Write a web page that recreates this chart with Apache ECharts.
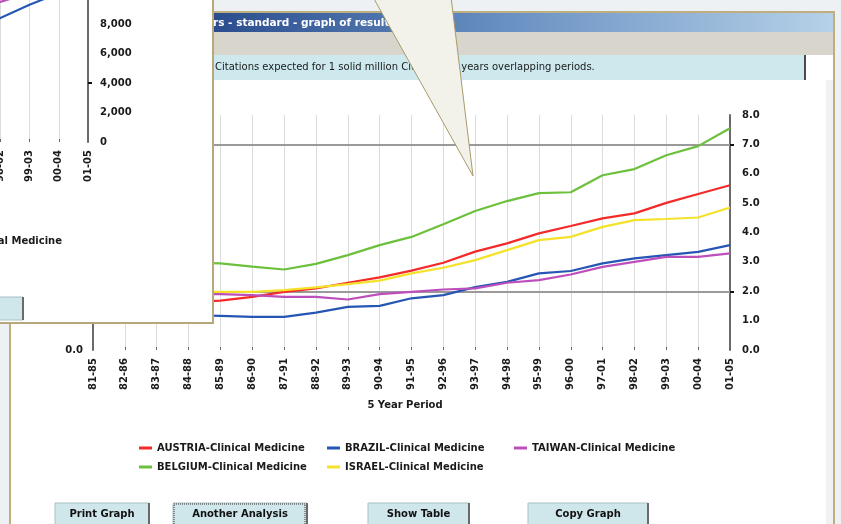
<!DOCTYPE html>
<html>
<head>
    <meta charset="utf-8">
    <title>5 Year Period</title>
    <script src="https://cdn.jsdelivr.net/npm/echarts@6/dist/echarts.min.js"></script>
</head>
<body style="margin:0">
    <div id="main" style="width:841px;height:524px;"></div>
    <script type="text/javascript">
        var myChart = echarts.init(document.getElementById('main'));

        /*--------------------- data ----------------------------*/
        var periods = ['81-85', '82-86', '83-87', '84-88', '85-89', '86-90', '87-91', '88-92', '89-93', '90-94',
            '91-95', '92-96', '93-97', '94-98', '95-99', '96-00', '97-01', '98-02', '99-03', '00-04', '01-05'];
        var austria = [1.55, 1.58, 1.60, 1.63, 1.68, 1.81, 1.98, 2.10, 2.29, 2.47, 2.70, 2.97, 3.35, 3.63, 3.97, 4.22, 4.48, 4.65, 5.01, 5.31, 5.61];
        var brazil = [1.25, 1.22, 1.20, 1.19, 1.16, 1.13, 1.13, 1.27, 1.47, 1.50, 1.76, 1.87, 2.14, 2.32, 2.61, 2.69, 2.95, 3.12, 3.23, 3.34, 3.57];
        var taiwan = [1.95, 1.93, 1.92, 1.90, 1.90, 1.87, 1.81, 1.81, 1.72, 1.90, 1.98, 2.06, 2.10, 2.29, 2.38, 2.57, 2.83, 3.00, 3.17, 3.17, 3.29];
        var belgium = [3.20, 3.10, 3.00, 2.97, 2.95, 2.84, 2.74, 2.93, 3.23, 3.57, 3.85, 4.28, 4.73, 5.07, 5.34, 5.37, 5.95, 6.16, 6.63, 6.94, 7.55];
        var israel = [2.00, 2.00, 1.99, 1.98, 1.98, 1.98, 2.04, 2.13, 2.24, 2.36, 2.61, 2.80, 3.06, 3.40, 3.74, 3.85, 4.19, 4.42, 4.46, 4.51, 4.85];
        var refLines = [7, 2];

        // the window in front, mostly off screen
        var insetPeriods = ['97-01', '98-02', '99-03', '00-04', '01-05'];
        var insetBrazil = [7600, 8400, 9300, 10100, 10900];
        var insetTaiwan = [8900, 9500, 10100, 10700, 11300];
        var insetRef = [4000];

        /*--------------------- styles ----------------------------*/
        var font = 'DejaVu Sans';
        var labelStyle = { color: '#1a1a1a', fontFamily: font, fontWeight: 'bold', fontSize: 10 };
        var colors = { austria: '#f42a2a', brazil: '#2656b4', taiwan: '#bd4fbd', belgium: '#6cc03c', israel: '#f4e22a' };

        function lineSeries(name, data, color) {
            return {
                name: name, type: 'line', data: data, symbol: 'none', z: 12,
                xAxisIndex: 0, yAxisIndex: 0,
                lineStyle: { color: color, width: 2.2 }, itemStyle: { color: color }
            };
        }

        var series = [
            lineSeries('AUSTRIA-Clinical Medicine', austria, colors.austria),
            lineSeries('BRAZIL-Clinical Medicine', brazil, colors.brazil),
            lineSeries('TAIWAN-Clinical Medicine', taiwan, colors.taiwan),
            lineSeries('BELGIUM-Clinical Medicine', belgium, colors.belgium),
            lineSeries('ISRAEL-Clinical Medicine', israel, colors.israel)
        ];
        series[0].markLine = {
            silent: true, symbol: 'none', z: 11,
            label: { show: false },
            lineStyle: { color: '#9a9a9a', width: 2, type: 'solid' },
            data: refLines.map(function (v) { return { yAxis: v }; })
        };
        // chart in the front window
        series.push({
            name: 'BRAZIL citations', type: 'line', data: insetBrazil, symbol: 'none',
            xAxisIndex: 1, yAxisIndex: 2, z: 62,
            lineStyle: { color: colors.brazil, width: 2.2 }, itemStyle: { color: colors.brazil },
            markLine: {
                silent: true, symbol: 'none', label: { show: false },
                lineStyle: { color: '#9a9a9a', width: 2, type: 'solid' },
                data: insetRef.map(function (v) { return { yAxis: v }; })
            }
        });
        series.push({
            name: 'TAIWAN citations', type: 'line', data: insetTaiwan, symbol: 'none',
            xAxisIndex: 1, yAxisIndex: 2, z: 62,
            lineStyle: { color: colors.taiwan, width: 2.2 }, itemStyle: { color: colors.taiwan }
        });

        /*--------------------- legend ----------------------------*/
        var legendPos = [
            ['AUSTRIA-Clinical Medicine', 139, 443], ['BRAZIL-Clinical Medicine', 327, 443],
            ['TAIWAN-Clinical Medicine', 514, 443], ['BELGIUM-Clinical Medicine', 139, 462],
            ['ISRAEL-Clinical Medicine', 327, 462]
        ];
        var legends = legendPos.map(function (p) {
            return {
                data: [p[0]], left: p[1], top: p[2], padding: 0, icon: 'rect',
                itemWidth: 13, itemHeight: 3, itemGap: 5, selectedMode: false, z: 12,
                textStyle: labelStyle
            };
        });

        /*--------------------- window chrome ----------------------------*/
        var buttons = [
            { text: 'Print Graph', x: 55, w: 94 },
            { text: 'Another Analysis', x: 173, w: 134, focus: true },
            { text: 'Show Table', x: 368, w: 101 },
            { text: 'Copy Graph', x: 528, w: 120 }
        ];
        var graphic = [
            { type: 'rect', z: 1, shape: { x: 10, y: 12, width: 824, height: 530 }, style: { fill: '#ffffff', stroke: '#bfae80', lineWidth: 2 } },
            { type: 'rect', z: 2, shape: { x: 826, y: 80, width: 7, height: 450 }, style: { fill: '#f0f1f2' } },
            {
                type: 'rect', z: 2, shape: { x: 11, y: 13, width: 822, height: 19 },
                style: {
                    fill: new echarts.graphic.LinearGradient(0, 0, 1, 0, [
                        { offset: 0, color: '#1c3774' }, { offset: 0.25, color: '#2b4d8e' },
                        { offset: 0.6, color: '#6890c2' }, { offset: 1, color: '#b6d1e8' }])
                }
            },
            { type: 'rect', z: 2, shape: { x: 11, y: 32, width: 822, height: 23 }, style: { fill: '#d8d5cd' } },
            { type: 'rect', z: 2, shape: { x: 11, y: 55, width: 794, height: 25 }, style: { fill: '#cde9ee' } },
            { type: 'line', z: 3, shape: { x1: 805, y1: 55, x2: 805, y2: 80 }, style: { stroke: '#4a4a4a', lineWidth: 2 } },
            { type: 'text', z: 3, x: 165, y: 23, style: { text: 'Indicators - standard - graph of results', fill: '#ffffff', font: 'bold 10.5px ' + font, verticalAlign: 'middle' } },
            { type: 'text', z: 3, x: 215, y: 67, style: { text: 'Citations expected for 1 solid million Citations, 5 years overlapping periods.', fill: '#1a1a1a', font: '10px ' + font, verticalAlign: 'middle' } },
            { type: 'text', z: 12, x: 405, y: 405, style: { text: '5 Year Period', fill: '#1a1a1a', font: 'bold 10px ' + font, align: 'center', verticalAlign: 'middle' } }
        ];
        buttons.forEach(function (b) {
            graphic.push({ type: 'rect', z: 3, shape: { x: b.x, y: 503, width: b.w, height: 28 }, style: { fill: '#cfe7eb', stroke: '#a9bfc4', lineWidth: 1 } });
            graphic.push({ type: 'line', z: 4, shape: { x1: b.x + b.w, y1: 503, x2: b.x + b.w, y2: 530 }, style: { stroke: '#6a6a6a', lineWidth: 2 } });
            if (b.focus) {
                graphic.push({ type: 'rect', z: 4, shape: { x: b.x + 1, y: 504, width: b.w - 3, height: 26 }, style: { fill: 'none', stroke: '#333', lineWidth: 1, lineDash: [1, 1] } });
            }
            graphic.push({ type: 'text', z: 5, x: b.x + b.w / 2, y: 514, style: { text: b.text, fill: '#111', font: 'bold 10px ' + font, align: 'center', verticalAlign: 'middle' } });
        });
        // front window (top left)
        graphic.push({ type: 'rect', z: 50, shape: { x: -5, y: -5, width: 218, height: 328 }, style: { fill: '#ffffff', stroke: '#b7a77a', lineWidth: 2 } });
        graphic.push({ type: 'text', z: 55, x: 62, y: 241, style: { text: 'TAIWAN-Clinical Medicine', fill: '#1a1a1a', font: 'bold 10px ' + font, align: 'right', verticalAlign: 'middle' } });
        graphic.push({ type: 'rect', z: 55, shape: { x: -10, y: 297, width: 33, height: 23 }, style: { fill: '#cfe7eb', stroke: '#a9bfc4', lineWidth: 1 } });
        graphic.push({ type: 'line', z: 56, shape: { x1: 23, y1: 297, x2: 23, y2: 320 }, style: { stroke: '#6a6a6a', lineWidth: 2 } });
        // callout
        graphic.push({ type: 'polygon', z: 100, shape: { points: [[373, -3], [451, -3], [473, 176]] }, style: { fill: '#f2f1ea', stroke: '#a99a6b', lineWidth: 1 } });

        /*--------------------- option ----------------------------*/
        function yAxisMain(pos, margin) {
            return {
                type: 'value', position: pos, min: 0, max: 8, interval: 1, z: 10, gridIndex: 0,
                axisLine: { show: true, lineStyle: { color: '#6a6a6a', width: 2 } },
                axisTick: { show: true, customValues: refLines, length: 4, lineStyle: { color: '#111', width: 2 } },
                splitLine: { show: false },
                axisLabel: Object.assign({ margin: margin, formatter: function (v) { return v.toFixed(1); } }, labelStyle)
            };
        }

        var option = {
            backgroundColor: '#eef1f4',
            animation: false,
            grid: [
                { left: 93, right: 111, top: 115, bottom: 174, outerBoundsMode: 'none', containLabel: false },
                { left: -29, right: 753, top: -5.5, bottom: 382, outerBoundsMode: 'none', containLabel: false }
            ],
            legend: legends,
            xAxis: [{
                type: 'category', data: periods, boundaryGap: false, z: 10, gridIndex: 0,
                axisLine: { show: false },
                axisTick: { show: true, inside: true, length: 3, lineStyle: { color: '#666' } },
                splitLine: { show: true, lineStyle: { color: '#dcdcdc', width: 1 } },
                axisLabel: Object.assign({ rotate: 90, margin: 8, interval: 0 }, labelStyle)
            }, {
                type: 'category', data: insetPeriods, boundaryGap: false, z: 60, gridIndex: 1,
                axisLine: { show: false },
                axisTick: { show: true, inside: true, length: 3, lineStyle: { color: '#666' } },
                splitLine: { show: true, lineStyle: { color: '#dcdcdc', width: 1 } },
                axisLabel: Object.assign({ rotate: 90, margin: 8, interval: 0 }, labelStyle)
            }],
            yAxis: [yAxisMain('left', 10), yAxisMain('right', 12), {
                type: 'value', position: 'right', min: 0, max: 10000, interval: 2000, z: 60, gridIndex: 1,
                axisLine: { show: true, lineStyle: { color: '#6a6a6a', width: 2 } },
                axisTick: { show: true, customValues: insetRef, length: 4, lineStyle: { color: '#111', width: 2 } },
                splitLine: { show: false },
                axisLabel: Object.assign({ margin: 12, formatter: function (v) { return v.toLocaleString('en-US'); } }, labelStyle)
            }],
            graphic: graphic,
            series: series
        };
        myChart.setOption(option);
    </script>
</body>
</html>
